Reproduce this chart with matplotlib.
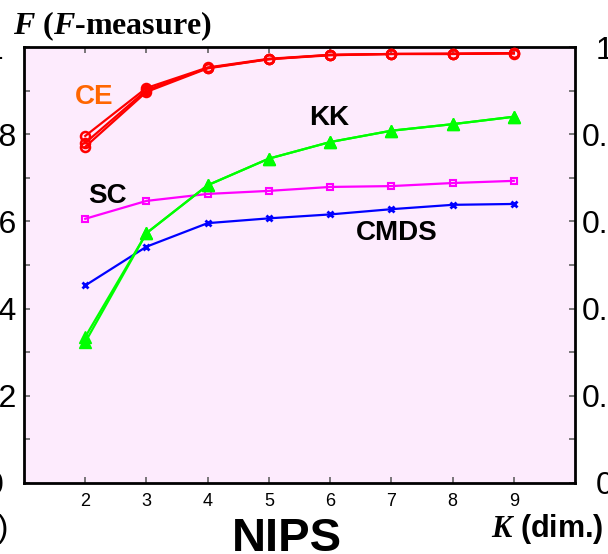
import matplotlib
matplotlib.use('Agg')
import matplotlib.pyplot as plt
from matplotlib.ticker import FixedLocator, MultipleLocator

# K (dimensions) on the x axis
k_dims = [2, 3, 4, 5, 6, 7, 8, 9]

# CE: several runs, nearly on top of each other
ce_run1 = [0.796, 0.906, 0.953, 0.973, 0.982, 0.984, 0.985, 0.986]
ce_run2 = [0.780, 0.901, 0.952, 0.972, 0.982, 0.984, 0.984, 0.986]
ce_run3 = [0.771, 0.897, 0.951, 0.972, 0.981, 0.984, 0.984, 0.985]

# KK: two runs
kk_run1 = [0.335, 0.573, 0.683, 0.744, 0.782, 0.808, 0.823, 0.840]
kk_run2 = [0.323, 0.573, 0.683, 0.744, 0.782, 0.808, 0.823, 0.840]

sc_vals = [0.606, 0.647, 0.663, 0.670, 0.679, 0.681, 0.688, 0.693]
cmds_vals = [0.453, 0.542, 0.596, 0.607, 0.616, 0.628, 0.638, 0.640]

y_ticks = [0, 0.2, 0.4, 0.6, 0.8, 1.0]
y_tick_labels = ['0', '0.2', '0.4', '0.6', '0.8', '1']

plt.rcParams['font.family'] = ['Liberation Sans', 'DejaVu Sans']
plt.rcParams['mathtext.fontset'] = 'custom'
plt.rcParams['mathtext.it'] = 'Liberation Serif:italic:bold'
plt.rcParams['mathtext.rm'] = 'Liberation Serif:bold'

W, H = 608, 554
fig = plt.figure(figsize=(W / 100, H / 100), dpi=100)
ax = fig.add_axes([24 / W, (H - 483) / H, (575 - 24) / W, (483 - 47) / H])
ax.set_facecolor('#FDEBFD')

# CE (red, open circles)
for run in [ce_run3, ce_run2, ce_run1]:
    ax.plot(k_dims, run, color='#FF0000', lw=1.6, marker='o', ms=6.5,
            mfc='none', mec='#FF0000', mew=1.8, zorder=5)

# KK (green, filled triangles)
for run in [kk_run2, kk_run1]:
    ax.plot(k_dims, run, color='#00FF00', lw=1.6, marker='^', ms=9,
            mfc='#00FF00', mec='#00FF00', zorder=4)

# SC (magenta, open squares)
ax.plot(k_dims, sc_vals, color='#FF00FF', lw=1.6, marker='s', ms=5,
        mfc='none', mec='#FF00FF', mew=1.5, zorder=3)

# CMDS (blue, crosses)
ax.plot(k_dims, cmds_vals, color='#0000FF', lw=1.6, marker='x', ms=4.5,
        mew=2, zorder=3)

ax.set_xlim(1, 10)
ax.set_ylim(0, 1)

ax.xaxis.set_major_locator(FixedLocator(k_dims))
ax.set_yticks(y_ticks)
ax.set_yticklabels(y_tick_labels)
ax.yaxis.set_minor_locator(MultipleLocator(0.1))

ax.tick_params(axis='x', which='both', direction='in', top=True, length=4.3,
               width=1.1, color='#555555', labelsize=13, pad=7)
ax.tick_params(axis='y', which='both', direction='in', right=True, length=4.3,
               width=1.1, color='#555555', labelsize=23, labelright=True)
for t in ax.yaxis.get_major_ticks():
    t.label1.set_horizontalalignment('center')
    t.label2.set_horizontalalignment('center')
ax.yaxis.set_tick_params(which='major', pad=21)

for sp in ax.spines.values():
    sp.set_linewidth(2.0)
    sp.set_color('black')

# series labels
ax.text(2.14, 0.885, 'CE', color='#FF6600', fontsize=20, fontweight='bold',
        ha='center', va='center')
ax.text(5.98, 0.837, 'KK', color='black', fontsize=20, fontweight='bold',
        ha='center', va='center')
ax.text(2.37, 0.658, 'SC', color='black', fontsize=20, fontweight='bold',
        ha='center', va='center')
ax.text(7.09, 0.573, 'CMDS', color='black', fontsize=20, fontweight='bold',
        ha='center', va='center')

# titles around the frame
fig.text(13 / W, 1 - 34 / H, r'$\mathit{F}$ ($\mathit{F}$-measure)',
         family='Liberation Serif', fontweight='bold', fontsize=23,
         ha='left', va='baseline')
fig.text(287 / W, 1 - 517 / H, 'NIPS', fontsize=34, fontweight='bold',
         ha='center', va='top')
fig.text(604 / W, 1 - 529 / H, r'$\mathit{K}$ (dim.)', fontsize=22,
         fontweight='bold', ha='right', va='center')
fig.text(8 / W, 1 - 529 / H, '(a)', fontsize=23, ha='right', va='center')

fig.savefig('out.png', dpi=100)
